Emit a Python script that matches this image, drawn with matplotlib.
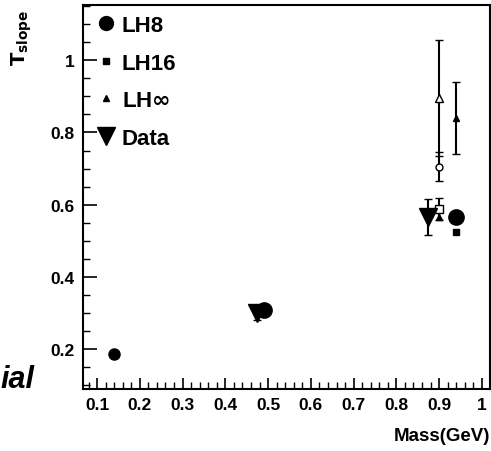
import matplotlib
matplotlib.use("Agg")
import matplotlib.pyplot as plt
from matplotlib.lines import Line2D
from matplotlib.ticker import MultipleLocator

plt.rcParams['font.family'] = ['Liberation Sans', 'DejaVu Sans']
plt.rcParams['font.weight'] = 'bold'

# model points (x = mass in GeV, y = T_slope)
lh8_x = [0.14, 0.49, 0.94]
lh8_y = [0.186, 0.31, 0.565]
lh16_x = [0.14, 0.49, 0.94]
lh16_y = [0.184, 0.305, 0.525]
lhinf_x = [0.485, 0.94]
lhinf_y = [0.31, 0.84]
lhinf_err = [0.0, 0.10]

# small filled triangle under the open square
extra_tri_x = [0.90]
extra_tri_y = [0.565]

# open markers around 0.9 GeV
open_tri_x, open_tri_y, open_tri_err = [0.90], [0.895], [0.16]
open_circ_x, open_circ_y, open_circ_err = [0.90], [0.705], [0.04]
open_sq_x, open_sq_y, open_sq_err = [0.90], [0.588], [0.03]

# data
data_x = [0.475, 0.875]
data_y = [0.30, 0.565]
data_err = [0.02, 0.05]

legend_labels = ['LH8', 'LH16', r'LH$\mathbf{\infty}$', 'Data']

fig = plt.figure(figsize=(4.91, 4.52), dpi=100)
ax = fig.add_axes([0.169, 0.137, 0.829, 0.85])

ax.errorbar(data_x, data_y, yerr=data_err, fmt='v', ms=13, color='black',
            capsize=3, elinewidth=1.5, zorder=3)
ax.plot(lh8_x[:1], lh8_y[:1], 'o', ms=8, color='black', zorder=4)
ax.plot(lh8_x[1:], lh8_y[1:], 'o', ms=11, color='black', zorder=4)
ax.plot(lh16_x, lh16_y, 's', ms=5, color='black', zorder=4)
ax.errorbar(lhinf_x, lhinf_y, yerr=lhinf_err, fmt='^', ms=5, color='black',
            capsize=3, elinewidth=1.5, zorder=4)
ax.plot(extra_tri_x, extra_tri_y, '^', ms=5, color='black', zorder=4)

ax.errorbar(open_tri_x, open_tri_y, yerr=open_tri_err, fmt='^', ms=6,
            mfc='white', mec='black', color='black', capsize=3, elinewidth=1.5)
ax.errorbar(open_circ_x, open_circ_y, yerr=open_circ_err, fmt='o', ms=5,
            mfc='white', mec='black', color='black', capsize=3, elinewidth=1.5)
ax.errorbar(open_sq_x, open_sq_y, yerr=open_sq_err, fmt='s', ms=6,
            mfc='white', mec='black', color='black', capsize=3, elinewidth=1.5)

ax.set_xlim(0.067, 1.019)
ax.set_ylim(0.09, 1.153)

ax.xaxis.set_minor_locator(MultipleLocator(0.02))
ax.yaxis.set_minor_locator(MultipleLocator(0.05))
ax.set_xticks([0.1, 0.2, 0.3, 0.4, 0.5, 0.6, 0.7, 0.8, 0.9, 1.0])
ax.set_xticklabels(['0.1', '0.2', '0.3', '0.4', '0.5', '0.6', '0.7', '0.8', '0.9', '1'])
ax.set_yticks([0.2, 0.4, 0.6, 0.8, 1.0])
ax.set_yticklabels(['0.2', '0.4', '0.6', '0.8', '1'])

ax.tick_params(which='major', direction='in', length=10, width=1.2,
               labelsize=12.5, pad=6)
ax.tick_params(which='minor', direction='in', length=5, width=1)
ax.tick_params(axis='x', which='major', length=8)
for lab in ax.get_xticklabels() + ax.get_yticklabels():
    lab.set_fontweight('bold')

for s in ax.spines.values():
    s.set_linewidth(1.5)

handles = [
    Line2D([], [], ls='none', marker='o', ms=10, color='black'),
    Line2D([], [], ls='none', marker='s', ms=5, color='black'),
    Line2D([], [], ls='none', marker='^', ms=5, color='black'),
    Line2D([], [], ls='none', marker='v', ms=13, color='black'),
]
ax.legend(handles, legend_labels, loc='upper left', frameon=False,
          prop={'weight': 'bold', 'size': 16}, handletextpad=0.1,
          labelspacing=0.75, borderaxespad=0.05, handlelength=1.2)

fig.text(0.998, 0.035, 'Mass(GeV)', ha='right', va='center',
         fontsize=13.5, fontweight='bold')
fig.text(0.045, 0.915, r'$\mathbf{T_{slope}}$', rotation=90, ha='center',
         va='center', fontsize=14)
fig.text(0.0, 0.16, 'ial', ha='left', va='center', fontsize=22,
         fontweight='bold', fontstyle='italic')

fig.savefig('out.png', dpi=100)
